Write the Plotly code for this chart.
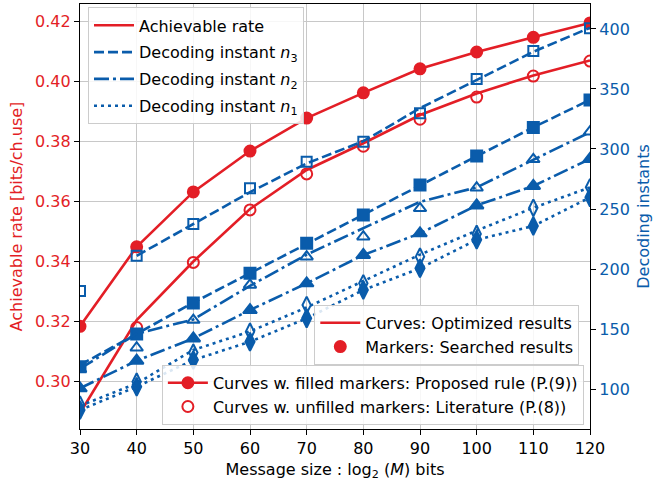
import plotly.graph_objects as go

# ---------------- data ----------------
msg_size = [30, 40, 50, 60, 70, 80, 90, 100, 110, 120]

# Achievable rate (left axis)
rate_prop_curve = [0.3184, 0.3449, 0.3632, 0.3768, 0.3878, 0.3962, 0.4042, 0.4098, 0.4147, 0.4195]
rate_prop_mark = [0.3184, 0.3449, 0.3632, 0.3768, 0.3878, 0.3962, 0.4042, 0.4098, 0.4147, 0.4195]
rate_lit_curve = [0.2895, 0.3205, 0.3400, 0.3575, 0.3705, 0.3794, 0.3888, 0.3960, 0.4020, 0.4070]
rate_lit_mark = [None, 0.3180, 0.3397, 0.3572, 0.3692, 0.3784, 0.3874, 0.3948, 0.4018, 0.4068]

# Decoding instants (right axis)
n3_prop_curve = [120, 146, 172, 196.5, 221, 245, 270, 294, 318, 341]
n3_prop_mark = [118.6, 145.8, 171.6, 196.4, 221.4, 245, 270, 294.2, 318, 340.8]
n3_lit_curve = [None, 211, 237.5, 264, 288, 306.5, 334, 357.5, 381, 401]
n3_lit_mark = [181.7, 211.1, 237.5, 267.2, 289.4, 306.1, 329.7, 358.3, 381.7, 400.5]

n2_prop_curve = [100.6, 123.6, 142.2, 165.8, 188.1, 211.7, 229.7, 253, 269.2, 291.7]
n2_prop_mark = [100.6, 123.6, 142.2, 165.8, 188.1, 211.7, 229.7, 253, 269.2, 291.7]
n2_lit_curve = [117, 146, 158, 186, 212, 234, 256, 268, 291, 314]
n2_lit_mark = [116.5, 134.4, 157.5, 186.7, 210.3, 226.9, 250.6, 267.7, 291.4, 314.4]

n1_prop_curve = [82.5, 101.9, 124.2, 139.4, 158.9, 182.5, 200.6, 224.4, 235.8, 259.7]
n1_prop_mark = [82.5, 101.9, 124.2, 139.4, 158.9, 182.5, 200.6, 224.4, 235.8, 259.7]
n1_lit_curve = [86, 104.7, 132.5, 148, 168, 190, 212, 232, 251, 268]
n1_lit_mark = [87, 106.1, 130.4, 147.8, 170, 188.1, 210.3, 229.2, 251, 268.1]

x_ticks = [30, 40, 50, 60, 70, 80, 90, 100, 110, 120]
y_left_ticks = [0.30, 0.32, 0.34, 0.36, 0.38, 0.40, 0.42]
y_right_ticks = [100, 150, 200, 250, 300, 350, 400]

RED = "#E31E26"
BLUE = "#0A5CAB"
FONT = "DejaVu Sans"
LW = 2.6
DASH = "10px,4px"
DASHDOT = "15px,4px,3px,4px"
DOT = "3px,4px"

fig = go.Figure()


def curve(y, color, dash, yaxis):
    fig.add_trace(go.Scatter(x=msg_size, y=y, mode="lines", yaxis=yaxis,
                             line=dict(color=color, width=LW, dash=dash),
                             showlegend=False, hoverinfo="skip"))


def marks(y, color, symbol, size, yaxis):
    fig.add_trace(go.Scatter(x=msg_size, y=y, mode="markers", yaxis=yaxis,
                             marker=dict(color=color, symbol=symbol, size=size,
                                         line=dict(color=color, width=2)),
                             showlegend=False, hoverinfo="skip"))


# red (left axis)
curve(rate_prop_curve, RED, "solid", "y")
marks(rate_prop_mark, RED, "circle", 11, "y")
curve(rate_lit_curve, RED, "solid", "y")
marks(rate_lit_mark, RED, "circle-open", 11, "y")

# blue (right axis)
curve(n3_prop_curve, BLUE, DASH, "y2")
marks(n3_prop_mark, BLUE, "square", 11, "y2")
curve(n3_lit_curve, BLUE, DASH, "y2")
marks(n3_lit_mark, BLUE, "square-open", 10, "y2")

curve(n2_prop_curve, BLUE, DASHDOT, "y2")
marks(n2_prop_mark, BLUE, "triangle-up", 12, "y2")
curve(n2_lit_curve, BLUE, DASHDOT, "y2")
marks(n2_lit_mark, BLUE, "triangle-up-open", 11, "y2")

curve(n1_prop_curve, BLUE, DOT, "y2")
marks(n1_prop_mark, BLUE, "diamond-tall", 13, "y2")
curve(n1_lit_curve, BLUE, DOT, "y2")
marks(n1_lit_mark, BLUE, "diamond-tall-open", 12, "y2")

# ---------------- legends (dummy traces) ----------------
def leg_line(name, color, dash, legend, mode="lines", symbol="circle", group=None):
    fig.add_trace(go.Scatter(x=[None], y=[None], mode=mode, name=name, legend=legend,
                             legendgroup=group,
                             line=dict(color=color, width=LW, dash=dash),
                             marker=dict(color=color, symbol=symbol, size=11,
                                         line=dict(color=color, width=2))))

leg_line("Achievable rate", RED, "solid", "legend", group="g1")
leg_line("Decoding instant <i>n</i><sub>3</sub>", BLUE, DASH, "legend", group="g2")
leg_line("Decoding instant <i>n</i><sub>2</sub>", BLUE, DASHDOT, "legend", group="g3")
leg_line("Decoding instant <i>n</i><sub>1</sub>", BLUE, DOT, "legend", group="g4")

leg_line("Curves: Optimized results", RED, "solid", "legend2")
leg_line("Markers: Searched results", RED, "solid", "legend2", mode="markers")

leg_line("Curves w. filled markers: Proposed rule (P.(9))", RED, "solid", "legend3", mode="lines+markers")
leg_line("Curves w. unfilled markers: Literature (P.(8))", RED, "solid", "legend3", mode="markers",
         symbol="circle-open")

leg_style = dict(bgcolor="rgba(255,255,255,0.85)", bordercolor="#cccccc", borderwidth=1,
                 font=dict(family=FONT, size=16, color="black"), itemwidth=40)

fig.update_layout(
    width=655, height=485,
    margin=dict(l=80, r=65, t=4, b=56),
    paper_bgcolor="white", plot_bgcolor="white",
    font=dict(family=FONT, size=16, color="black"),
    legend=dict(x=0.0157, y=0.992, xanchor="left", yanchor="top", tracegroupgap=3,
                traceorder="grouped", **leg_style),
    legend2=dict(x=0.979, y=0.292, xanchor="right", yanchor="top", tracegroupgap=0, **leg_style),
    legend3=dict(x=0.988, y=0.151, xanchor="right", yanchor="top", tracegroupgap=0, **leg_style),
    xaxis=dict(range=[30, 120], tickvals=x_ticks, ticks="outside", ticklen=5,
               tickcolor="black", showline=True, linecolor="black", linewidth=1.2,
               mirror=True, showgrid=True, gridcolor="#c8c8c8", gridwidth=1,
               zeroline=False, tickfont=dict(size=16, color="black"),
               title=dict(text="Message size : log<sub>2</sub> (<i>M</i>) bits",
                          font=dict(size=16), standoff=6)),
    yaxis=dict(range=[0.2842, 0.4258], tickvals=y_left_ticks, tickformat=".2f",
               ticks="outside", ticklen=5, tickcolor="black", showline=True,
               linecolor="black", linewidth=1.2, showgrid=True, gridcolor="#c8c8c8",
               gridwidth=1, zeroline=False, tickfont=dict(size=16, color=RED),
               title=dict(text="Achievable rate [bits/ch.use]", font=dict(size=16, color=RED),
                          standoff=8)),
    yaxis2=dict(range=[66.7, 420.8], tickvals=y_right_ticks, overlaying="y", side="right",
                ticks="outside", ticklen=5, tickcolor="black", showline=True,
                linecolor="black", linewidth=1.2, showgrid=False, zeroline=False,
                tickfont=dict(size=16, color=BLUE),
                title=dict(text="Decoding instants", font=dict(size=16, color=BLUE),
                           standoff=8)),
)

fig.write_html("out.html", config={"displayModeBar": False},
               post_script="document.body.style.margin='0';")
